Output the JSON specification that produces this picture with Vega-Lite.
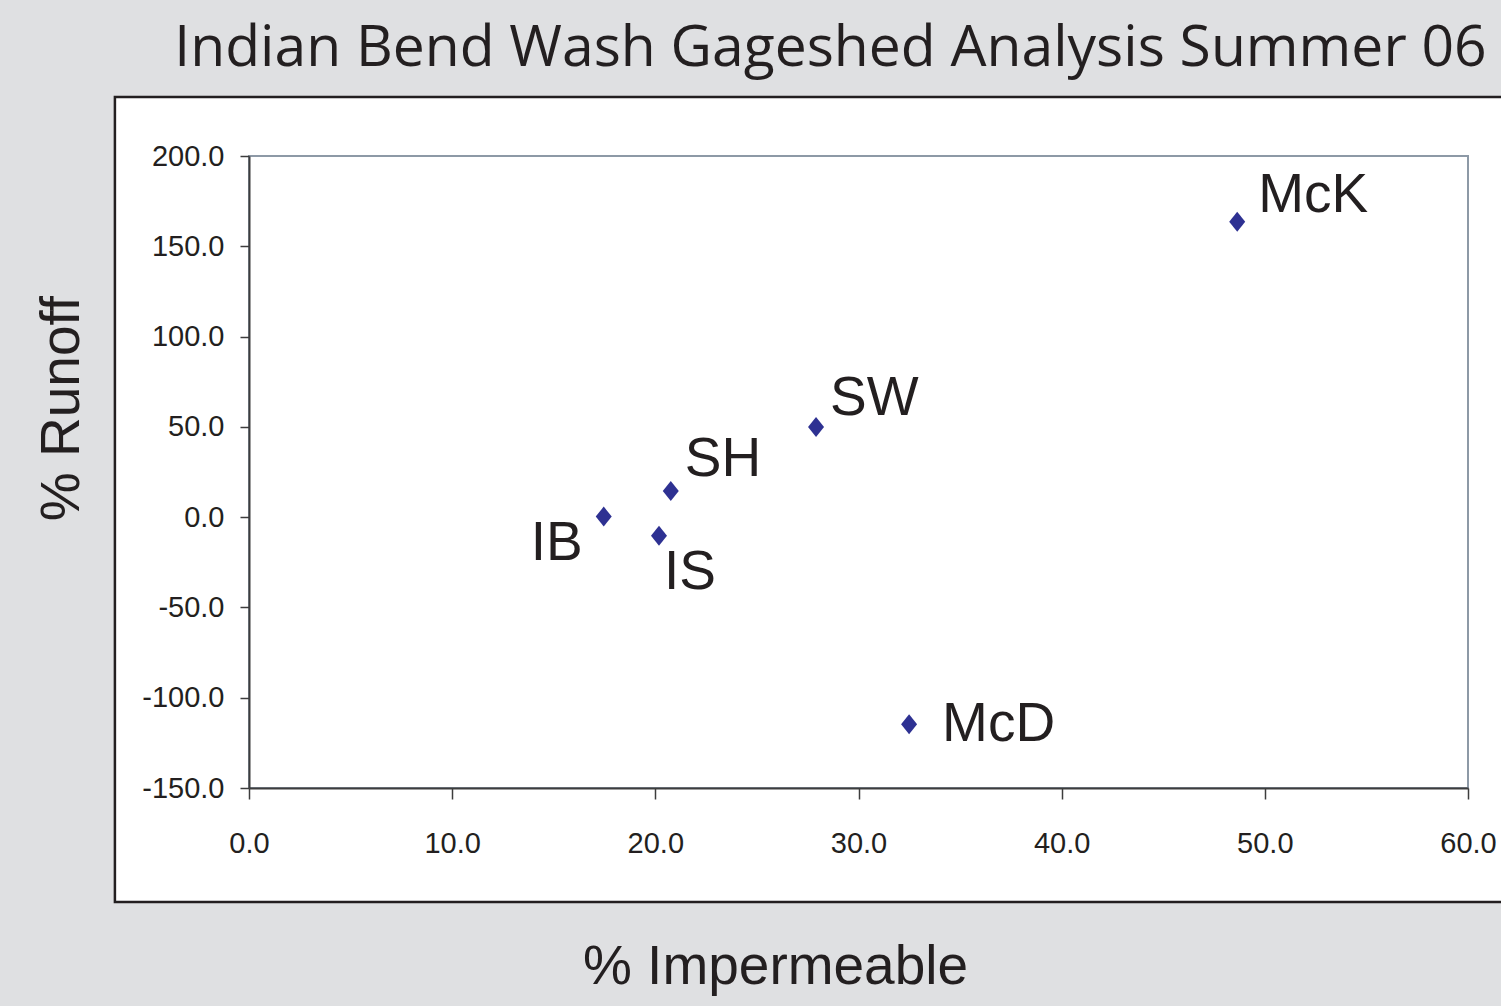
{
  "$schema": "https://vega.github.io/schema/vega-lite/v6.json",
  "width": 1219,
  "height": 632,
  "autosize": {"type": "none"},
  "padding": {"left": 249, "top": 156, "right": 33, "bottom": 218},
  "background": "#dfe0e2",
  "title": {
    "text": "Indian Bend Wash Gageshed Analysis Summer 06",
    "font": "Open Sans",
    "fontSize": 57,
    "fontWeight": "normal",
    "color": "#231f20",
    "anchor": "middle",
    "frame": "group",
    "dx": -28,
    "dy": 37,
    "baseline": "alphabetic",
    "offset": 10
  },
  "config": {"view": {"stroke": null}},
  "data": {
    "values": [
      {"site": "IB", "impermeable": 17.46, "runoff": 0.3},
      {"site": "IS", "impermeable": 20.18, "runoff": -10.3},
      {"site": "SH", "impermeable": 20.76, "runoff": 14.5},
      {"site": "SW", "impermeable": 27.91, "runoff": 49.9},
      {"site": "McD", "impermeable": 32.49, "runoff": -114.7},
      {"site": "McK", "impermeable": 48.64, "runoff": 163.6}
    ]
  },
  "layer": [
    {
      "data": {"values": [{}]},
      "mark": {"type": "rect", "fill": "#ffffff", "stroke": "#231f20", "strokeWidth": 2.5},
      "encoding": {
        "x": {
          "datum": -6.6, "type": "quantitative",
          "scale": {"domain": [0, 60], "nice": false, "zero": false},
          "axis": {
            "values": [0, 10, 20, 30, 40, 50, 60], "format": ".1f", "grid": false,
            "domainColor": "#3d3d3d", "domainWidth": 2, "tickColor": "#3d3d3d", "tickWidth": 1.5, "tickSize": 11,
            "labelFont": "Liberation Sans", "labelFontSize": 29, "labelColor": "#231f20", "labelPadding": 30,
            "labelFlush": false, "labelOverlap": false, "zindex": 1,
            "title": "% Impermeable", "titleFont": "Liberation Sans", "titleFontSize": 55, "titleFontWeight": "normal",
            "titleColor": "#231f20", "titleX": 526, "titleY": 195, "titleBaseline": "alphabetic", "titleAlign": "center"
          }
        },
        "x2": {"datum": 63},
        "y": {
          "datum": 232.7, "type": "quantitative",
          "scale": {"domain": [-150, 200], "nice": false, "zero": false},
          "axis": {
            "values": [-150, -100, -50, 0, 50, 100, 150, 200], "format": ".1f", "grid": false,
            "labelExpr": "replace(datum.label, '\u2212', '-')",
            "domainColor": "#3d3d3d", "domainWidth": 2, "tickColor": "#3d3d3d", "tickWidth": 1.5, "tickSize": 9,
            "labelFont": "Liberation Sans", "labelFontSize": 29, "labelColor": "#231f20", "labelPadding": 16,
            "labelFlush": false, "labelOverlap": false, "zindex": 1,
            "title": "% Runoff", "titleFont": "Liberation Sans", "titleFontSize": 55, "titleFontWeight": "normal",
            "titleColor": "#231f20", "titleX": -171, "titleY": 252, "titleAngle": 270, "titleBaseline": "alphabetic", "titleAlign": "center"
          }
        },
        "y2": {"datum": -213.1}
      }
    },
    {
      "data": {"values": [{}]},
      "mark": {"type": "rect", "fill": null, "fillOpacity": 0, "stroke": "#8d99a6", "strokeWidth": 2},
      "encoding": {
        "x": {"datum": 0, "type": "quantitative", "scale": {"domain": [0, 60], "nice": false, "zero": false}},
        "x2": {"datum": 60},
        "y": {"datum": -150, "type": "quantitative", "scale": {"domain": [-150, 200], "nice": false, "zero": false}},
        "y2": {"datum": 200}
      }
    },
    {
      "mark": {"type": "point", "shape": "M-0.8,0L0,-1L0.8,0L0,1Z", "filled": true, "fill": "#2e3192", "size": 400, "opacity": 1, "strokeWidth": 0},
      "encoding": {
        "x": {"field": "impermeable", "type": "quantitative", "scale": {"domain": [0, 60], "nice": false, "zero": false}},
        "y": {"field": "runoff", "type": "quantitative", "scale": {"domain": [-150, 200], "nice": false, "zero": false}}
      }
    },
    {
      "transform": [{"filter": "datum.site === 'McK'"}],
      "mark": {"type": "text", "font": "Liberation Sans", "fontSize": 55, "color": "#231f20", "align": "left", "baseline": "alphabetic", "dx": 21, "dy": -10},
      "encoding": {
        "x": {"field": "impermeable", "type": "quantitative", "scale": {"domain": [0, 60], "nice": false, "zero": false}},
        "y": {"field": "runoff", "type": "quantitative", "scale": {"domain": [-150, 200], "nice": false, "zero": false}},
        "text": {"field": "site"}
      }
    },
    {
      "transform": [{"filter": "datum.site === 'SW'"}],
      "mark": {"type": "text", "font": "Liberation Sans", "fontSize": 55, "color": "#231f20", "align": "left", "baseline": "alphabetic", "dx": 14, "dy": -12},
      "encoding": {
        "x": {"field": "impermeable", "type": "quantitative", "scale": {"domain": [0, 60], "nice": false, "zero": false}},
        "y": {"field": "runoff", "type": "quantitative", "scale": {"domain": [-150, 200], "nice": false, "zero": false}},
        "text": {"field": "site"}
      }
    },
    {
      "transform": [{"filter": "datum.site === 'SH'"}],
      "mark": {"type": "text", "font": "Liberation Sans", "fontSize": 55, "color": "#231f20", "align": "left", "baseline": "alphabetic", "dx": 14, "dy": -15},
      "encoding": {
        "x": {"field": "impermeable", "type": "quantitative", "scale": {"domain": [0, 60], "nice": false, "zero": false}},
        "y": {"field": "runoff", "type": "quantitative", "scale": {"domain": [-150, 200], "nice": false, "zero": false}},
        "text": {"field": "site"}
      }
    },
    {
      "transform": [{"filter": "datum.site === 'IB'"}],
      "mark": {"type": "text", "font": "Liberation Sans", "fontSize": 55, "color": "#231f20", "align": "right", "baseline": "alphabetic", "dx": -21, "dy": 43},
      "encoding": {
        "x": {"field": "impermeable", "type": "quantitative", "scale": {"domain": [0, 60], "nice": false, "zero": false}},
        "y": {"field": "runoff", "type": "quantitative", "scale": {"domain": [-150, 200], "nice": false, "zero": false}},
        "text": {"field": "site"}
      }
    },
    {
      "transform": [{"filter": "datum.site === 'IS'"}],
      "mark": {"type": "text", "font": "Liberation Sans", "fontSize": 55, "color": "#231f20", "align": "left", "baseline": "alphabetic", "dx": 5, "dy": 53},
      "encoding": {
        "x": {"field": "impermeable", "type": "quantitative", "scale": {"domain": [0, 60], "nice": false, "zero": false}},
        "y": {"field": "runoff", "type": "quantitative", "scale": {"domain": [-150, 200], "nice": false, "zero": false}},
        "text": {"field": "site"}
      }
    },
    {
      "transform": [{"filter": "datum.site === 'McD'"}],
      "mark": {"type": "text", "font": "Liberation Sans", "fontSize": 55, "color": "#231f20", "align": "left", "baseline": "alphabetic", "dx": 33, "dy": 17},
      "encoding": {
        "x": {"field": "impermeable", "type": "quantitative", "scale": {"domain": [0, 60], "nice": false, "zero": false}},
        "y": {"field": "runoff", "type": "quantitative", "scale": {"domain": [-150, 200], "nice": false, "zero": false}},
        "text": {"field": "site"}
      }
    }
  ]
}
